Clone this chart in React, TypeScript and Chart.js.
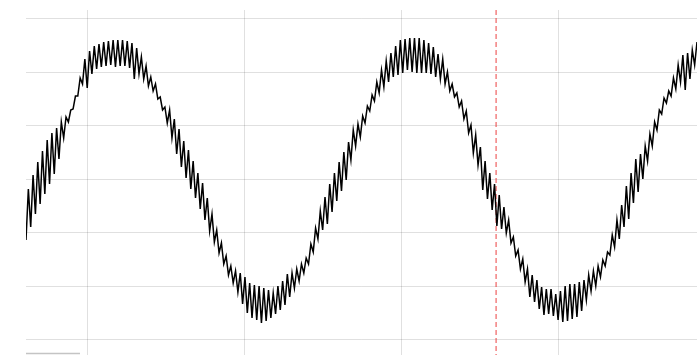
import React, { useEffect, useRef } from "react";
import { Chart, registerables } from "chart.js";

Chart.register(...registerables);

// x axis (samples are evenly spaced)
const X_START = 60.5;
const X_STEP = 1.5;
const X_MIN = 60.5;
const X_MAX = 488;
const X_TICKS = [100, 200, 300, 400];

// y axis
const Y_MIN = -176;
const Y_MAX = 169;
const Y_TICKS = [-160.5, -107, -53.5, 0, 53.5, 107, 160.5];

// vertical marker
const MARKER_X = 360;

// signal values
const SIGNAL = [
  -61, -10, -48, 4, -35, 17, -25, 28, -15, 39,
  -5, 46, 5, 51, 20, 57, 41, 62, 57, 69,
  70, 83, 83, 101, 95, 120, 91, 128, 105, 133,
  110, 135, 112, 137, 113, 138, 114, 139, 112, 139,
  113, 139, 113, 138, 111, 136, 100, 131, 105, 122,
  100, 113, 93, 102, 88, 95, 80, 82, 69, 72,
  56, 69, 41, 60, 25, 50, 12, 38, 1, 29,
  -10, 18, -19, 6, -30, -4, -41, -19, -52, -35,
  -63, -51, -74, -64, -85, -77, -96, -87, -104, -92,
  -113, -94, -125, -98, -134, -104, -139, -106, -141, -107,
  -144, -109, -142, -111, -139, -114, -135, -107, -131, -102,
  -126, -95, -118, -94, -109, -90, -102, -85, -94, -79,
  -85, -65, -73, -49, -60, -32, -51, -18, -45, -5,
  -33, 6, -22, 17, -12, 27, -1, 37, 19, 49,
  33, 55, 42, 63, 56, 73, 68, 84, 78, 97,
  86, 109, 92, 118, 97, 126, 102, 133, 104, 139,
  106, 140, 109, 141, 107, 141, 106, 141, 106, 139,
  106, 136, 105, 132, 102, 125, 100, 120, 95, 107,
  88, 95, 82, 86, 72, 78, 60, 68, 46, 54,
  26, 44, 14, 32, -11, 18, -20, 6, -31, -5,
  -47, -16, -50, -28, -54, -41, -64, -58, -77, -71,
  -90, -80, -103, -90, -118, -96, -123, -101, -130, -108,
  -136, -110, -135, -110, -137, -115, -141, -112, -143, -107,
  -142, -105, -140, -105, -138, -103, -132, -101, -121, -96,
  -112, -92, -107, -87, -98, -81, -87, -73, -76, -56,
  -68, -41, -60, -26, -48, -7, -40, 6, -24, 20,
  -13, 25, 0, 33, 18, 45, 33, 57, 49, 69,
  65, 81, 76, 88, 83, 101, 90, 114, 97, 124,
  89, 126, 100, 129, 114, 137,
];

const footLine = {
  id: "footLine",
  afterDraw(chart: any) {
    const { ctx, chartArea } = chart;
    ctx.save();
    ctx.strokeStyle = "#c4c4c4";
    ctx.lineWidth = 1.5;
    ctx.beginPath();
    ctx.moveTo(chartArea.left, 353.5);
    ctx.lineTo(chartArea.left + 54, 353.5);
    ctx.stroke();
    ctx.restore();
  },
};

export default function App() {
  const canvasRef = useRef<HTMLCanvasElement | null>(null);

  useEffect(() => {
    if (!canvasRef.current) return;
    const points = SIGNAL.map((y, i) => ({ x: X_START + i * X_STEP, y }));
    const chart = new Chart(canvasRef.current, {
      type: "line",
      data: {
        datasets: [
          {
            data: points,
            borderColor: "#000000",
            borderWidth: 1.5,
            pointRadius: 0,
            tension: 0,
            fill: false,
          },
          {
            data: [
              { x: MARKER_X, y: Y_MAX },
              { x: MARKER_X, y: Y_MIN },
            ],
            borderColor: "rgba(235, 60, 60, 0.75)",
            borderWidth: 1.3,
            borderDash: [5, 3],
            pointRadius: 0,
            fill: false,
          },
        ],
      },
      options: {
        animation: false,
        responsive: true,
        maintainAspectRatio: false,
        layout: { padding: { left: 26, top: 10, right: 0, bottom: 0 } },
        plugins: { legend: { display: false }, tooltip: { enabled: false } },
        scales: {
          x: {
            type: "linear",
            min: X_MIN,
            max: X_MAX,
            afterBuildTicks: (axis: any) => {
              axis.ticks = X_TICKS.map((v) => ({ value: v }));
            },
            ticks: { display: false },
            grid: { color: "rgba(0,0,0,0.12)", drawTicks: false },
            border: { display: false },
          },
          y: {
            type: "linear",
            min: Y_MIN,
            max: Y_MAX,
            afterBuildTicks: (axis: any) => {
              axis.ticks = Y_TICKS.map((v) => ({ value: v }));
            },
            ticks: { display: false },
            grid: { color: "rgba(0,0,0,0.12)", drawTicks: false },
            border: { display: false },
          },
        },
      },
      plugins: [footLine],
    });
    return () => chart.destroy();
  }, []);

  return (
    <div style={{ position: "fixed", left: 0, top: 0, width: 697, height: 355 }}>
      <canvas ref={canvasRef} />
    </div>
  );
}
